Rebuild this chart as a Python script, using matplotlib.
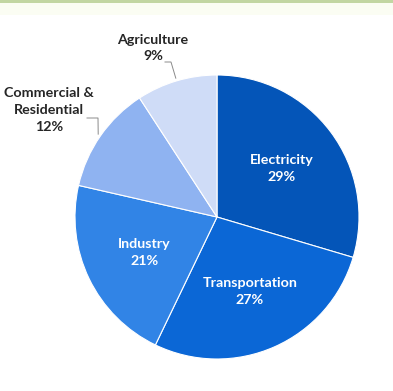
import numpy as np
import matplotlib.pyplot as plt

# sector shares (percent)
sectors = ['Electricity', 'Transportation', 'Industry', 'Commercial &\nResidential', 'Agriculture']
shares = [29, 27, 21, 12, 9]
colors = ['#0455b8', '#0b67d6', '#3184e6', '#8fb3f1', '#cfdcf7']

plt.rcParams['font.family'] = ['Lato', 'DejaVu Sans']

W, H = 393, 391
fig = plt.figure(figsize=(W / 100, H / 100), dpi=100)
ax = fig.add_axes([0, 0, 1, 1])

# thin green band at the top, fading below
ax.axhspan(H - 3, H, color='#c2d6a2', lw=0)
ax.axhspan(H - 15, H - 3, color='#fbfdf3', lw=0)

cx, cy, r = 217, H - 217, 142
wedges, _ = ax.pie(shares, colors=colors, startangle=90, counterclock=False,
                   center=(cx, cy), radius=r, frame=True,
                   wedgeprops=dict(edgecolor='white', linewidth=0.8))
ax.set_xlim(0, W)
ax.set_ylim(0, H)
ax.set_aspect('equal')
ax.axis('off')

fs = 10.3
for i, (w, name, val) in enumerate(zip(wedges, sectors, shares)):
    mid = np.deg2rad((w.theta1 + w.theta2) / 2)
    label = f'{name}\n{val}%'
    if i < 3:
        x = cx + 0.57 * r * np.cos(mid)
        y = cy + 0.57 * r * np.sin(mid)
        ax.text(x, y, label, ha='center', va='center', color='white',
                fontsize=fs, fontweight='bold', linespacing=1.5)
        continue
    ex = cx + 1.02 * r * np.cos(mid)
    ey = cy + 1.02 * r * np.sin(mid)
    if i == 3:
        tx, ty = 49, H - 110
        lx, ly, dx = 87, H - 118, 11
    else:
        tx, ty = 153, H - 48
        lx, ly, dx = 165, H - 62, 6
    ax.plot([lx, lx + dx, ex], [ly, ly, ey], color='#8a8a8a', lw=0.7)
    ax.text(tx, ty, label, ha='center', va='center', color='#262626',
            fontsize=fs, fontweight='bold', linespacing=1.5)

plt.savefig('out.png', dpi=100)
plt.close()
